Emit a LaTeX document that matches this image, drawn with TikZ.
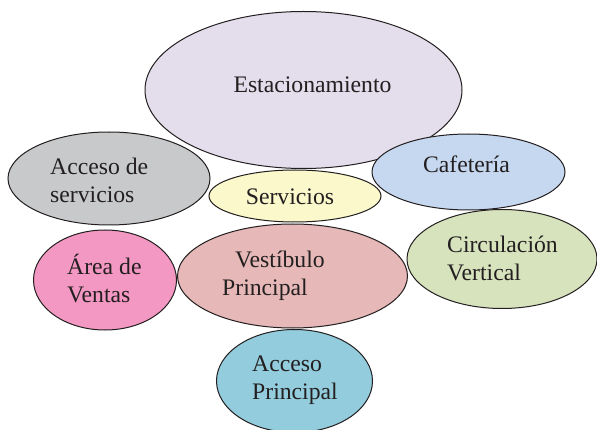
\documentclass[tikz,border=0pt]{standalone}
\usepackage{fontspec}
\setmainfont{Liberation Serif}
\newfontfamily\rotfont{Liberation Serif}
\usetikzlibrary{shapes.geometric}

\definecolor{tinta}{RGB}{35,31,32}
\definecolor{cEst}{RGB}{228,221,235}
\definecolor{cAcs}{RGB}{200,201,203}
\definecolor{cSer}{RGB}{251,248,204}
\definecolor{cCaf}{RGB}{198,216,239}
\definecolor{cAre}{RGB}{243,152,194}
\definecolor{cVes}{RGB}{230,184,183}
\definecolor{cAcp}{RGB}{147,205,221}
\definecolor{cCir}{RGB}{215,227,189}

\begin{document}
\begin{tikzpicture}[x=1pt, y=-1pt,
    zona/.style={ellipse, draw=tinta, line width=1pt, inner sep=0pt},
    rotulo/.style={text=tinta, align=left, inner sep=0pt,
        font=\rotfont\fontsize{23.7}{28}\selectfont}]
    \useasboundingbox (0,0) rectangle (597,430);

    % Zonas (centro, ancho, alto, relleno)
    \foreach \n/\x/\y/\w/\h/\c in {est/303.5/90/317/157/cEst, caf/468.5/172/193/76/cCaf,
        acs/109/178.5/202/93/cAcs, ser/295/196/172/52/cSer, cir/502/259/190/99/cCir,
        are/105/280/143/100/cAre, ves/292.5/276/230/104/cVes, acp/294.5/381/156/103/cAcp}
        \node[zona, fill=\c, minimum width=\w pt, minimum height=\h pt] (\n) at (\x,\y) {};

    % Rotulos
    \node[rotulo, anchor=base] (est-t) at (312.5,93) {Estacionamiento};
    \node[rotulo, anchor=base] (caf-t) at (466.5,173) {Cafetería};
    \node[rotulo, anchor=base] (ser-t) at (290,205) {Servicios};
    \node[rotulo, anchor=west] (acs-t) at (50,180.5) {Acceso de\\servicios};
    \node[rotulo, anchor=west] (are-t) at (67,279) {Área de\\Ventas};
    \node[rotulo, anchor=west] (ves-t) at (222,276) {\hspace*{13pt}Vestíbulo\\Principal};
    \node[rotulo, anchor=west] (cir-t) at (447,258) {Circulación\\Vertical};
    \node[rotulo, anchor=west] (acp-t) at (252,380) {Acceso\\Principal};
\end{tikzpicture}
\end{document}
